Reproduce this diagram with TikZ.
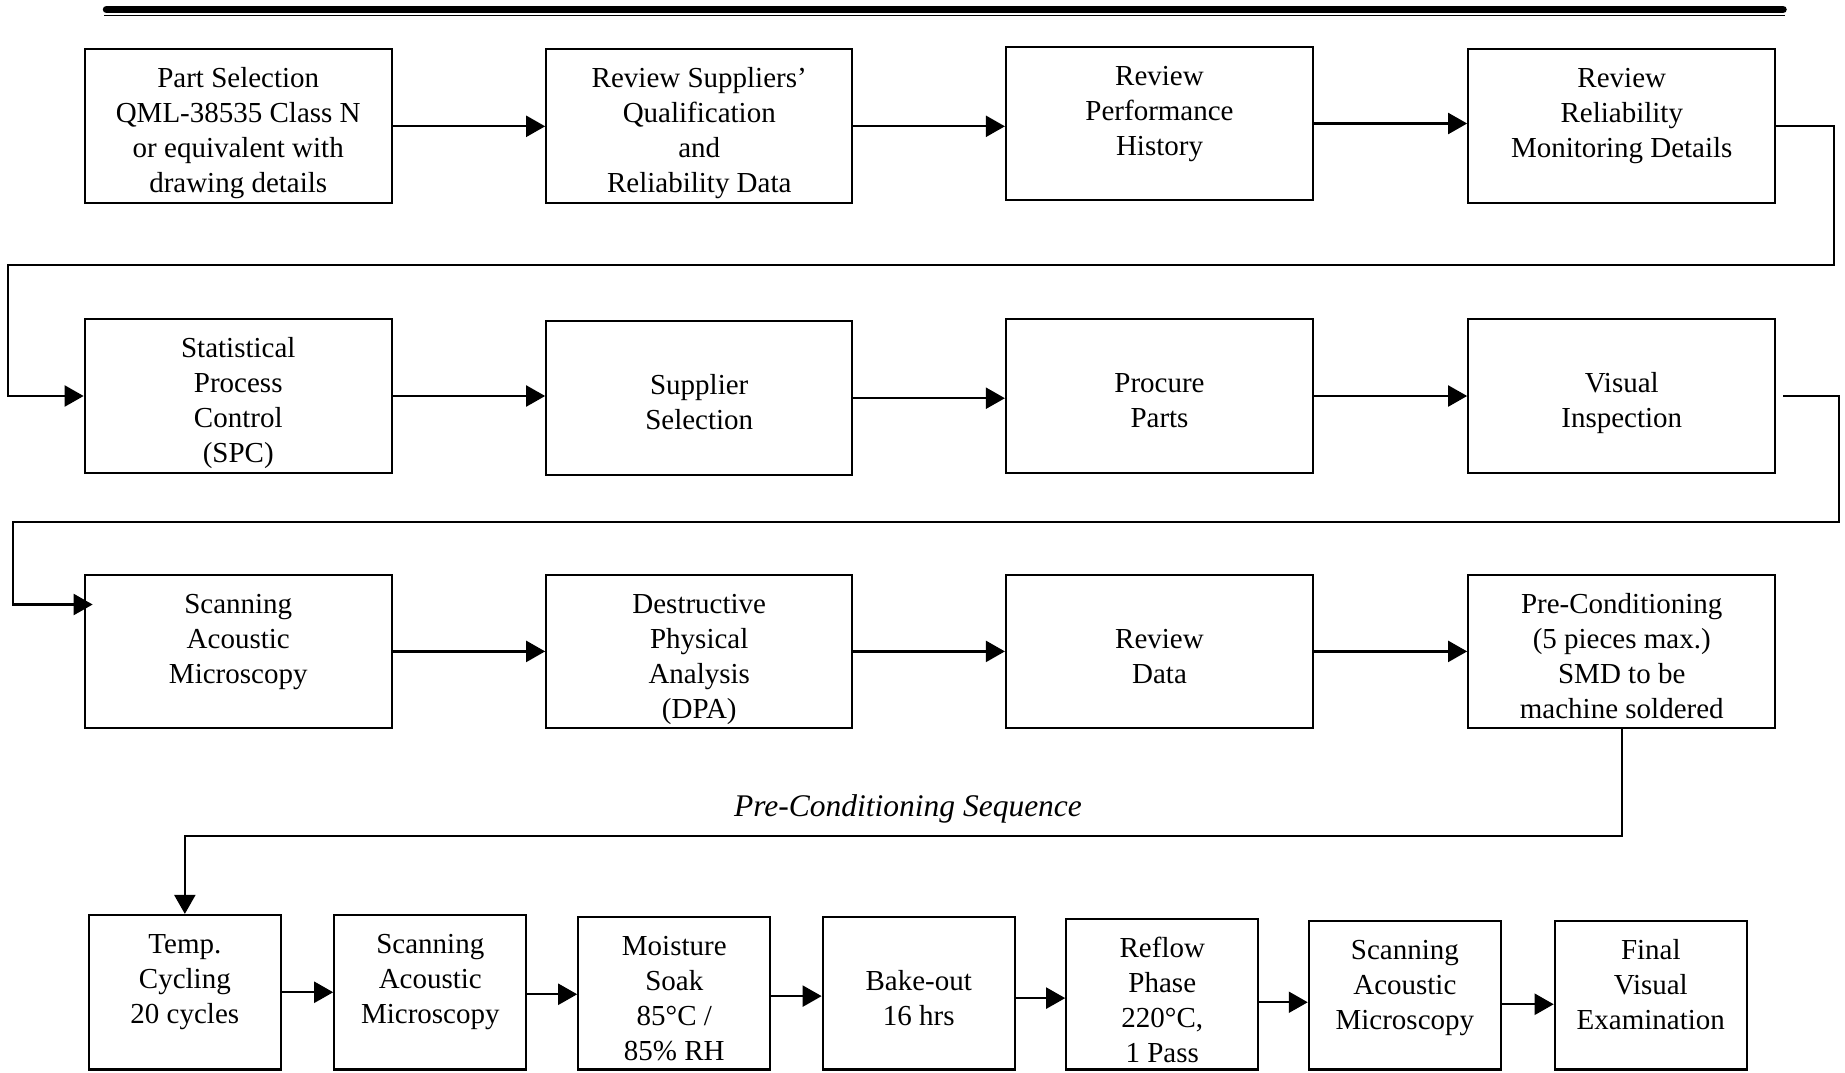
\documentclass[tikz,border=0pt]{standalone}
\usepackage{fontspec}
\setmainfont{Liberation Serif}
\usetikzlibrary{arrows.meta,calc}
\newcommand{\bt}[3]{\begin{minipage}[c][#2][t]{#1}\centering\vspace*{14pt}\strut#3\end{minipage}}
\begin{document}
\begin{tikzpicture}[x=1pt,y=-1pt,
  box/.style={draw=black,line width=2.2pt,inner sep=0pt,font=\fontsize{29}{35}\selectfont},
  arr/.style={line width=2.2pt,-{Triangle[length=19pt,width=21pt]}},
  lab/.style={font=\fontsize{31.5}{36}\selectfont\itshape,inner sep=0pt}]
\useasboundingbox (0,0) rectangle (1845,1072);
% title rule
\draw[line width=7.5pt,line cap=round] (106.5,9.5) -- (1783,9.5);
\draw[line width=1.5pt] (104,15.5) -- (1785,15.5);
% row 1
\node[box] (b1) at (238.25,126.3) {\bt{307pt}{154pt}{Part Selection\\QML-38535 Class N\\or equivalent with\\drawing details}};
\node[box] (b2) at (699.25,126.3) {\bt{306pt}{154pt}{Review Suppliers’\\Qualification\\and\\Reliability Data}};
\node[box] (b3) at (1159.5,123.5) {\bt{307pt}{153pt}{Review\\Performance\\History}};
\node[box] (b4) at (1621.75,126.3) {\bt{307pt}{154pt}{Review\\Reliability\\Monitoring Details}};
% row 2
\node[box] (b5) at (238.25,396) {\bt{307pt}{154pt}{Statistical\\Process\\Control\\(SPC)}};
\node[box] (b6) at (699.25,398.2) {\bt{306pt}{154pt}{\\Supplier\\Selection}};
\node[box] (b7) at (1159.5,396) {\bt{307pt}{154pt}{\\Procure\\Parts}};
\node[box] (b8) at (1621.75,396.3) {\bt{307pt}{154pt}{\\Visual\\Inspection}};
% row 3
\node[box] (b9) at (238.25,651.4) {\bt{307pt}{153pt}{Scanning\\Acoustic\\Microscopy}};
\node[box] (b10) at (699.25,651.4) {\bt{306pt}{153pt}{Destructive\\Physical\\Analysis\\(DPA)}};
\node[box] (b11) at (1159.5,651.4) {\bt{307pt}{153pt}{\\Review\\Data}};
\node[box] (b12) at (1621.75,651.4) {\bt{307pt}{153pt}{Pre-Conditioning\\(5 pieces max.)\\SMD to be\\machine soldered}};
% row 4
\node[box] (b13) at (184.85,992.25) {\bt{192pt}{154.5pt}{Temp.\\Cycling\\20 cycles}};
\node[box] (b14) at (430.3,992.25) {\bt{192pt}{154.5pt}{Scanning\\Acoustic\\Microscopy}};
\node[box] (b15) at (674.3,993.1) {\bt{192pt}{152.8pt}{Moisture\\Soak\\85°C /\\85\% RH}};
\node[box] (b16) at (918.75,993.1) {\bt{192pt}{152.8pt}{\\Bake-out\\16 hrs}};
\node[box] (b17) at (1162.3,994.25) {\bt{192pt}{150.5pt}{Reflow\\Phase\\220°C,\\1 Pass}};
\node[box] (b18) at (1404.85,995.25) {\bt{192pt}{148.5pt}{Scanning\\Acoustic\\Microscopy}};
\node[box] (b19) at (1650.8,995.25) {\bt{192pt}{148.5pt}{Final\\Visual\\Examination}};
% label
\node[lab,anchor=base] (seq) at (908,816.7) {Pre-Conditioning Sequence};
% row arrows
\draw[arr] (b1.east) -- (b1.east -| b2.west);
\draw[arr] (b2.east) -- (b2.east -| b3.west);
\draw[arr] (b3.east) -- (b3.east -| b4.west);
\draw[arr] (b5.east) -- (b5.east -| b6.west);
\draw[arr] (b6.east) -- (b6.east -| b7.west);
\draw[arr] (b7.east) -- (b7.east -| b8.west);
\draw[arr] (b9.east) -- (b9.east -| b10.west);
\draw[arr] (b10.east) -- (b10.east -| b11.west);
\draw[arr] (b11.east) -- (b11.east -| b12.west);
\draw[arr] (b13.east) -- (b13.east -| b14.west);
\draw[arr] ([yshift=-2pt]b14.east) -- ([yshift=-2pt]b14.east -| b15.west);
\draw[arr] ([yshift=-3pt]b15.east) -- ([yshift=-3pt]b15.east -| b16.west);
\draw[arr] ([yshift=-5pt]b16.east) -- ([yshift=-5pt]b16.east -| b17.west);
\draw[arr] ([yshift=-8pt]b17.east) -- ([yshift=-8pt]b17.east -| b18.west);
\draw[arr] ([yshift=-9pt]b18.east) -- ([yshift=-9pt]b18.east -| b19.west);
% row-to-row connectors
\coordinate (r1) at (1834.3,265);
\coordinate (l1) at (8,265);
\draw[arr] (b4.east) -| (r1) -- (l1) |- (b5.west);
\coordinate (r2) at (1839.3,521.7);
\coordinate (l2) at (12.7,521.7);
\coordinate (in9) at ($(b9.north west)+(9,30.7)$);
\draw[arr] ([xshift=6.7pt]b8.east) -| (r2) -- (l2) |- (in9);
\coordinate (c3) at (184.85,836);
\draw[arr] (b12.south) |- (c3) -- (b13.north);
\end{tikzpicture}
\end{document}
